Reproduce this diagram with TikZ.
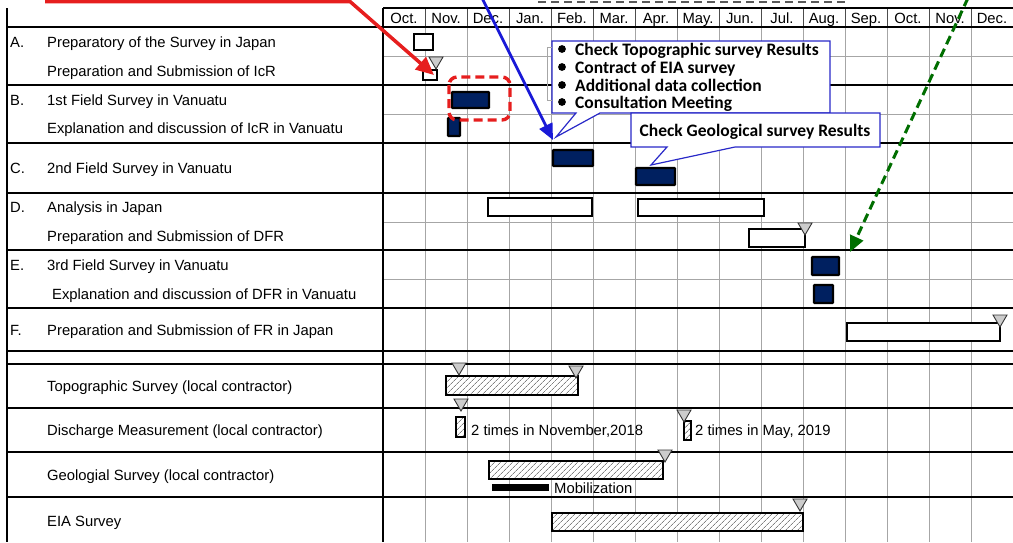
\documentclass[tikz,border=0pt]{standalone}
\usepackage{fontspec}
\setmainfont{Liberation Sans}
\newfontfamily\callfont{Carlito}
\usepackage{tikz}
\usetikzlibrary{arrows.meta,patterns.meta}
\definecolor{navy}{RGB}{0,32,96}
\definecolor{redline}{RGB}{230,30,30}
\definecolor{blueline}{RGB}{25,25,215}
\definecolor{greenline}{RGB}{0,110,0}
\definecolor{callblue}{RGB}{40,40,200}

\begin{document}
\begin{tikzpicture}[x=1pt, y=-1pt,
    lbl/.style={anchor=base west, inner sep=0pt, yshift=-5.3pt, font=\fontsize{14.8}{16}\selectfont},
    calltxt/.style={anchor=base west, inner sep=0pt, yshift=-6pt, font=\callfont\bfseries\fontsize{17.5}{19}\selectfont},
    callout/.style={draw=callblue, line width=1.2pt, fill=white},
    plainbar/.style={draw, line width=2.8pt, fill=white},
    navybar/.style={draw, line width=2.4pt, fill=navy, rounded corners=0.8pt},
    hatchbar/.style={draw, line width=2.8pt, preaction={fill=white}, preaction={pattern={Lines[angle=45, distance=4pt, line width=0.8pt]}, pattern color=gray}},
    mstone/.style={draw=black!80, line width=0.9pt, fill=gray!40},
    gridc/.style={draw=gray!70, line width=0.9pt}]
    \useasboundingbox (0,0) rectangle (1013,542);

    % grid of the chart
    \foreach \i in {1,...,14} {
        \draw[gridc] ({383+42*\i},27) -- ({383+42*\i},542);
        \draw[black!70, line width=0.9pt] ({383+42*\i},8) -- ({383+42*\i},27);
    }
    \foreach \y in {56,114,222,279} \draw[gridc] (383,\y) -- (1013,\y);
    \foreach \y in {27,85,143,193,250,308,351,364,408,452,497} \draw[line width=1.1pt] (7,\y) -- (1013,\y);
    \draw[line width=1.1pt] (383,8) -- (1013,8); \draw[line width=1.1pt] (7,8) -- (7,542);
    \draw[line width=1.9pt] (383,8) -- (383,542);

    \foreach \m [count=\i] in {Oct.,Nov.,Dec.,Jan.,Feb.,Mar.,Apr.,May.,Jun.,Jul.,Aug.,Sep.,Oct.,Nov.,Dec.}
        \node[lbl, anchor=base] (mon\i) at ({383+42*\i-21},18) {\m};

    \foreach \l/\y in {A/42, B/100, C/168, D/207, E/265, F/330} \node[lbl] (let\l) at (10,\y) {\l.};
    \foreach \n/\y/\t in {a1/42/Preparatory of the Survey in Japan, a2/71/Preparation and Submission of IcR,
        b1/100/1st Field Survey in Vanuatu, b2/128/Explanation and discussion of IcR in Vanuatu,
        c1/168/2nd Field Survey in Vanuatu, d1/207/Analysis in Japan, d2/236/Preparation and Submission of DFR,
        e1/265/3rd Field Survey in Vanuatu, f1/330/Preparation and Submission of FR in Japan,
        topo/386/Topographic Survey (local contractor), dis/430/Discharge Measurement (local contractor),
        geo/475/Geologial Survey (local contractor), eia/521/EIA Survey}
        \node[lbl] (task\n) at (47,\y) {\t};
    \node[lbl] (taske2) at (52,294) {Explanation and discussion of DFR in Vanuatu};

    % bars
    \foreach \a/\b/\c/\d in {414/34/433/50, 423/70/437/80, 488/198/592/216, 638/199/764/216, 749/229/805/247, 847/323/1000/341}
        \draw[plainbar] (\a,\b) rectangle (\c,\d);
    \foreach \a/\b/\c/\d in {452/92/489/108, 448/118/460/136, 553/150/593/166, 636/168/675/185, 812/257/839/275, 814/285/833/303}
        \draw[navybar] (\a,\b) rectangle (\c,\d);
    \foreach \a/\b/\c/\d in {446/376/578/395, 456/417/465/437, 684/421/691/440, 489/461/663/479, 552/513/803/531}
        \draw[hatchbar] (\a,\b) rectangle (\c,\d);
    \fill (492,484) rectangle (549,491);
    \foreach \x/\y in {436/57, 805/223, 1000/315, 459/363, 576/366, 461/399, 684/410, 665/450, 800/499}
        \filldraw[mstone] (\x-7,\y) -- (\x+7,\y) -- (\x,\y+12) -- cycle;

    \node[lbl] (disnov) at (471,430) {2 times in November,2018};
    \node[lbl] (dismay) at (695,430) {2 times in May, 2019};
    \node[lbl] (mobtxt) at (554,488) {Mobilization};

    % callouts
    \draw[callout] (552,41) -- (830,41) -- (830,113) -- (600,113) -- (556,137) -- (576,113) -- (552,113) -- cycle;
    \draw[gray!70, line width=0.6pt] (552,47) -- (547,47) -- (547,100) -- (552,100);
    \foreach \y in {49,67,85,102} \fill (562,\y) circle (3.9);
    \foreach \n/\y/\t in {c1/49/Check Topographic survey Results, c2/67/Contract of EIA survey,
        c3/85/Additional data collection, c4/102/Consultation Meeting}
        \node[calltxt] (call\n) at (575,\y) {\t};
    \draw[callout] (631,113) -- (880,113) -- (880,147) -- (735,147) -- (651,165) -- (667,147) -- (631,147) -- cycle;
    \node[calltxt, anchor=base] (callgeo) at (755,130) {Check Geological survey Results};

    \draw[redline, line width=3.4pt, dash pattern=on 9pt off 5pt, rounded corners=8pt] (449,77) rectangle (510,120);

    % arrows
    \coordinate (redS) at (45,1.5); \coordinate (redK) at (350,1.5); \coordinate (redT) at (434,75);
    \draw[redline, line width=3.5pt, -{Triangle[length=18pt, width=16pt]}] (redS) -- (redK) -- (redT);
    \coordinate (blueS) at (482,-2); \coordinate (blueT) at (553,140);
    \draw[blueline, line width=2.8pt, -{Triangle[length=16pt, width=14pt]}] (blueS) -- (blueT);
    \coordinate (greenS) at (968,-2); \coordinate (greenT) at (850,252);
    \draw[greenline, line width=3pt, dash pattern=on 9pt off 5pt, -{Triangle[length=16pt, width=14pt]}] (greenS) -- (greenT);
    \coordinate (dashS) at (538,1.5); \coordinate (dashE) at (848,1.5);
    \draw[black!65, line width=2pt, dash pattern=on 8pt off 5pt] (dashS) -- (dashE);
\end{tikzpicture}
\end{document}
